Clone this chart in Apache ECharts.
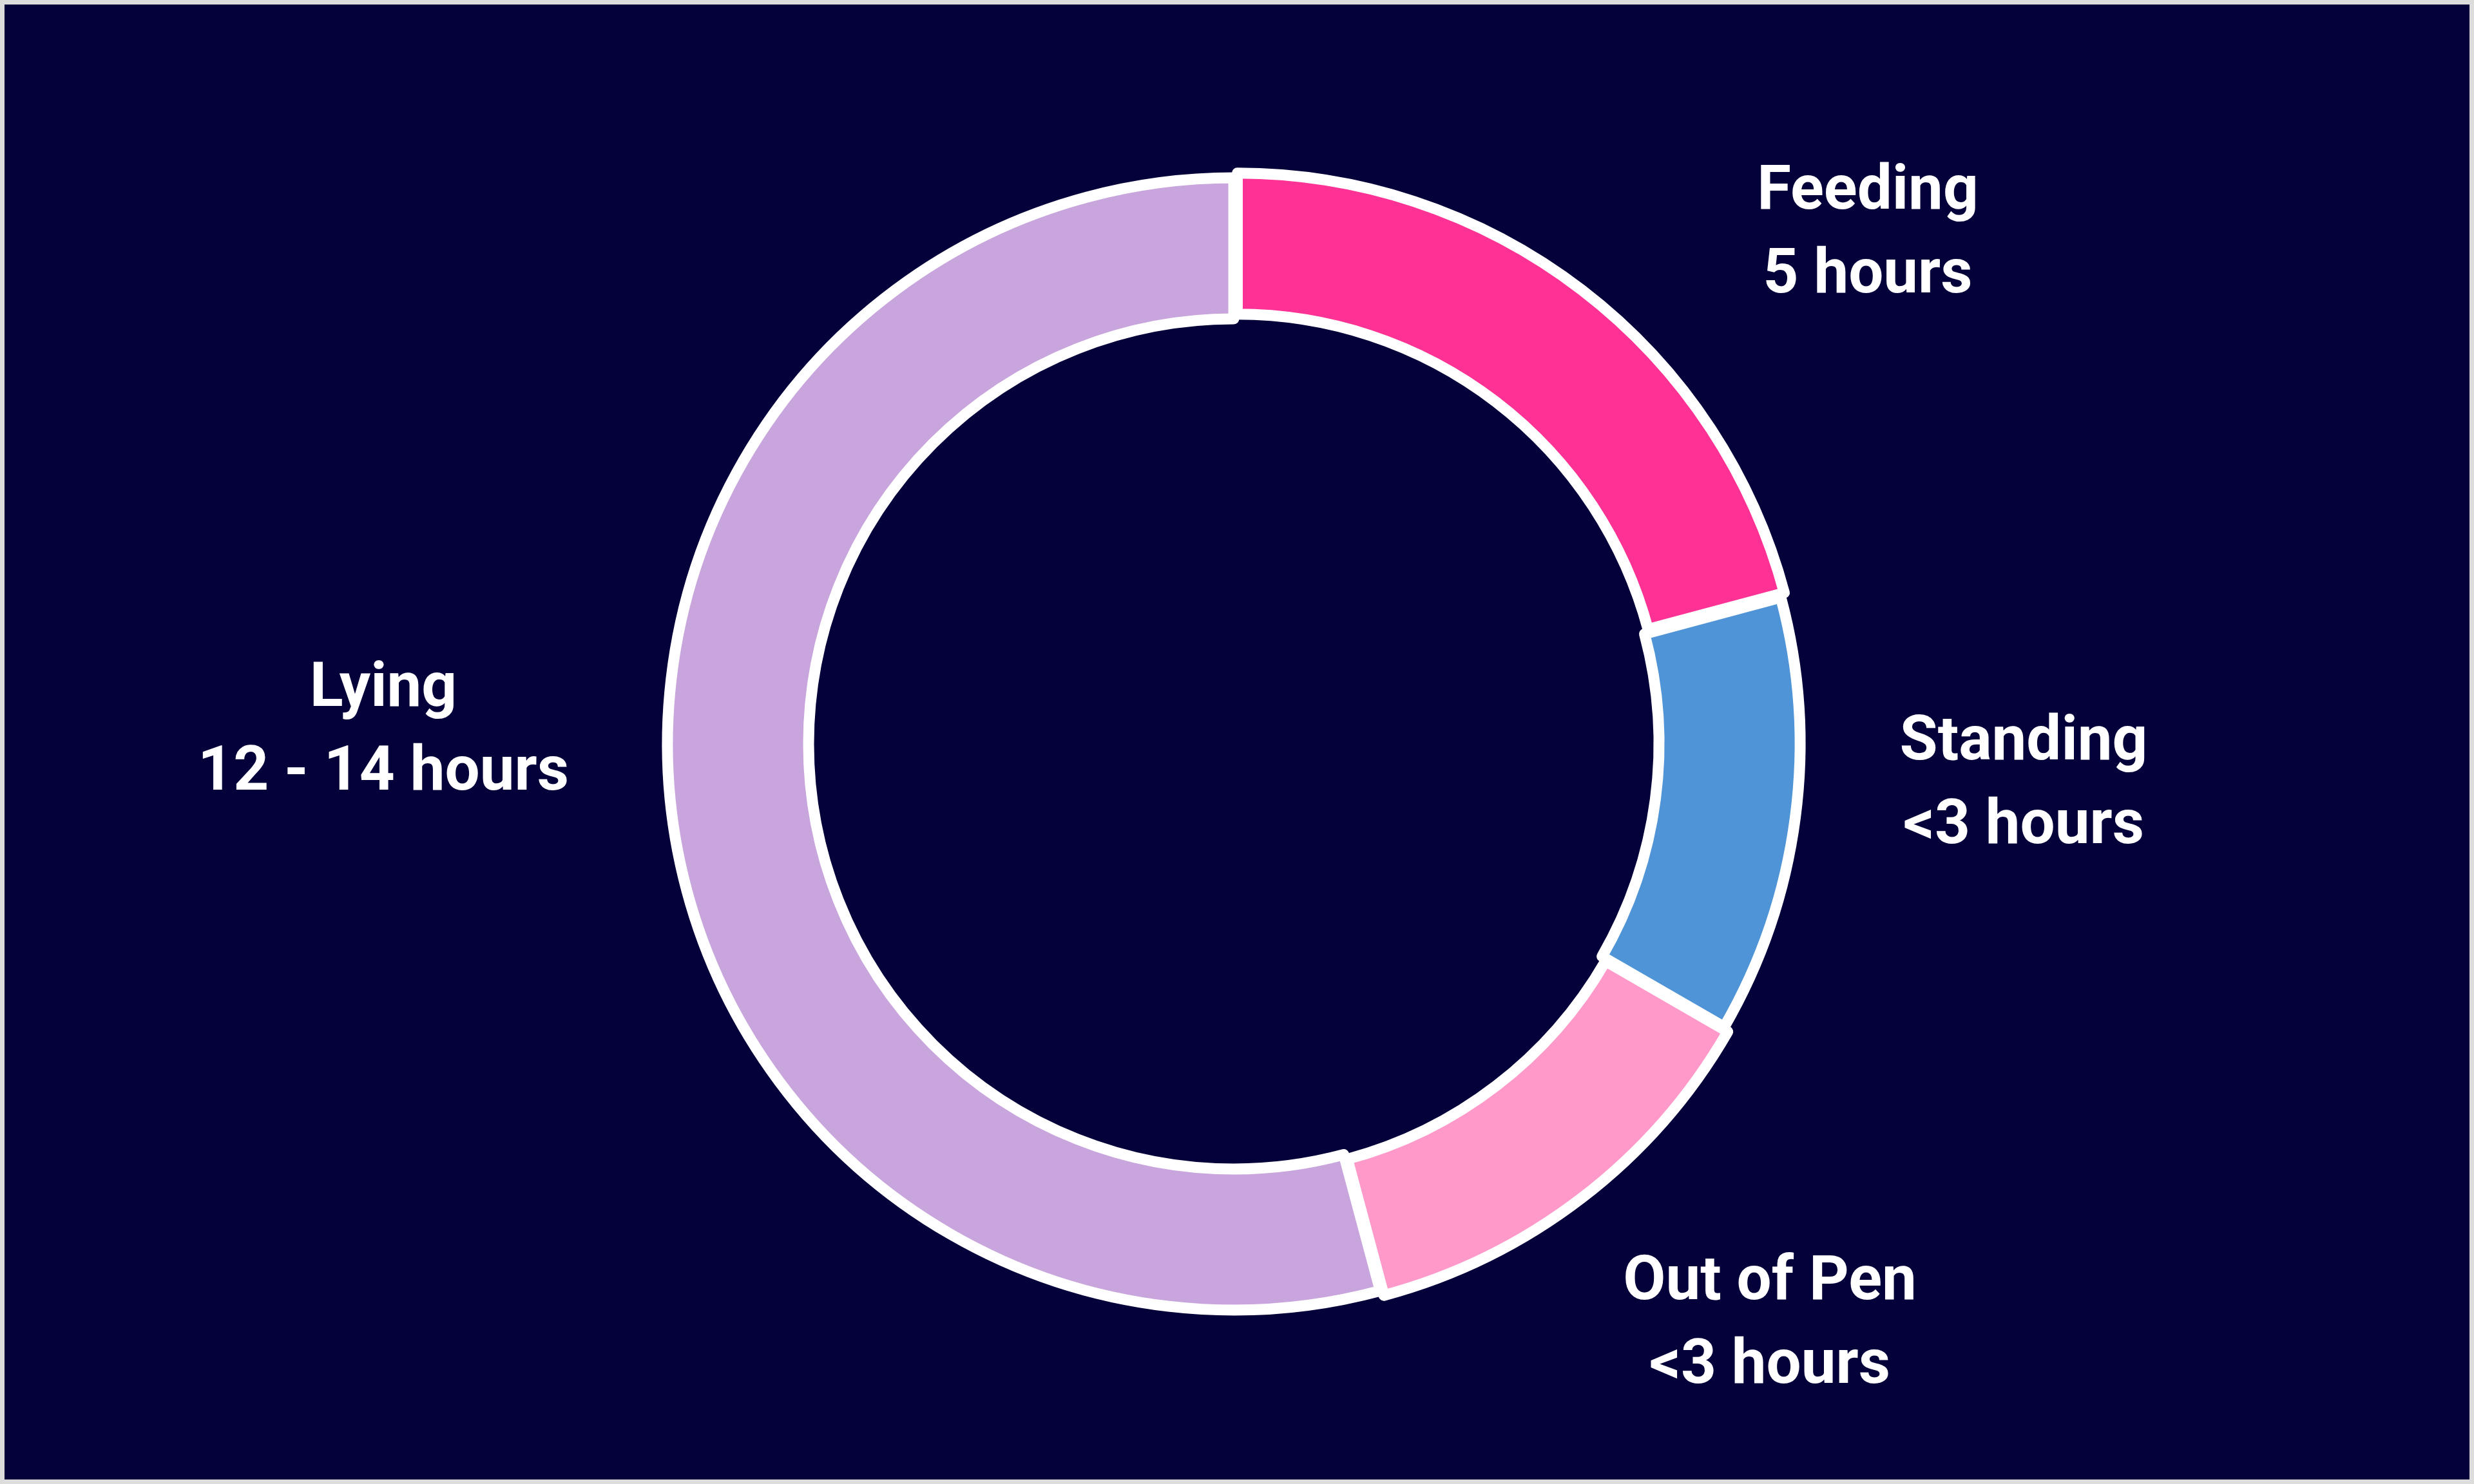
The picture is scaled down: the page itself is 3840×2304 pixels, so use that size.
<!DOCTYPE html>
<html>
<head>
<meta charset="utf-8">
<title>Daily time budget</title>
<style>
  html, body { margin: 0; padding: 0; width: 100%; height: 100%; background: #dcdcdc; overflow: hidden; }
  #chart { position: absolute; left: 7px; top: 7px; right: 7px; bottom: 7px; background: #03003a; }
</style>
</head>
<body>
<div id="chart"></div>
<script src="https://cdn.jsdelivr.net/npm/echarts@6/dist/echarts.min.js"></script>
<script>
// activities and hours per day
var activities = ['Feeding', 'Standing', 'Out of Pen', 'Lying'];
var hours = [5, 3, 3, 13];
var hourLabels = ['5 hours', '<3 hours', '<3 hours', '12 - 14 hours'];
var sliceColors = ['#fe3194', '#4f94d7', '#ff99c9', '#c8a5dc'];
var raised = [true, false, true, false];

// where each label block sits (chart pixels)
var labelSpots = [[2892, 358], [3134, 1213], [2740, 2051], [588, 1130]];

var chart = echarts.init(document.getElementById('chart'));

var ringData = activities.map(function (name, i) {
    return {
        name: name,
        value: hours[i],
        selected: raised[i],
        itemStyle: { color: sliceColors[i] }
    };
});

var labelData = activities.map(function (name, i) {
    return { name: name, value: hours[i] };
});

var ringCenter = [1908, 1148];
var ringRadius = [660, 879];

var option = {
    backgroundColor: '#03003a',
    animation: false,
    series: [{
        // the ring itself, two slices nudged out a little
        type: 'pie',
        center: ringCenter,
        radius: ringRadius,
        startAngle: 90,
        clockwise: true,
        selectedMode: 'multiple',
        selectedOffset: 9,
        silent: true,
        itemStyle: {
            borderColor: '#ffffff',
            borderWidth: 17
        },
        select: { itemStyle: { borderColor: '#ffffff', borderWidth: 17 } },
        emphasis: { disabled: true },
        label: { show: false },
        labelLine: { show: false },
        data: ringData
    }, {
        // same slices, invisible, only carrying the labels
        type: 'pie',
        center: ringCenter,
        radius: ringRadius,
        startAngle: 90,
        clockwise: true,
        silent: true,
        itemStyle: { color: 'rgba(0,0,0,0)', borderWidth: 0 },
        emphasis: { disabled: true },
        label: {
            show: true,
            position: 'outside',
            color: '#ffffff',
            fontFamily: 'Roboto, "Liberation Sans", sans-serif',
            fontWeight: 'bold',
            fontSize: 96,
            lineHeight: 130,
            align: 'center',
            formatter: function (p) {
                return p.name + '\n' + hourLabels[p.dataIndex];
            }
        },
        labelLine: { show: false },
        labelLayout: function (p) {
            var s = labelSpots[p.dataIndex];
            return { x: s[0], y: s[1], align: 'center', verticalAlign: 'middle' };
        },
        data: labelData
    }]
};

chart.setOption(option);
</script>
</body>
</html>
